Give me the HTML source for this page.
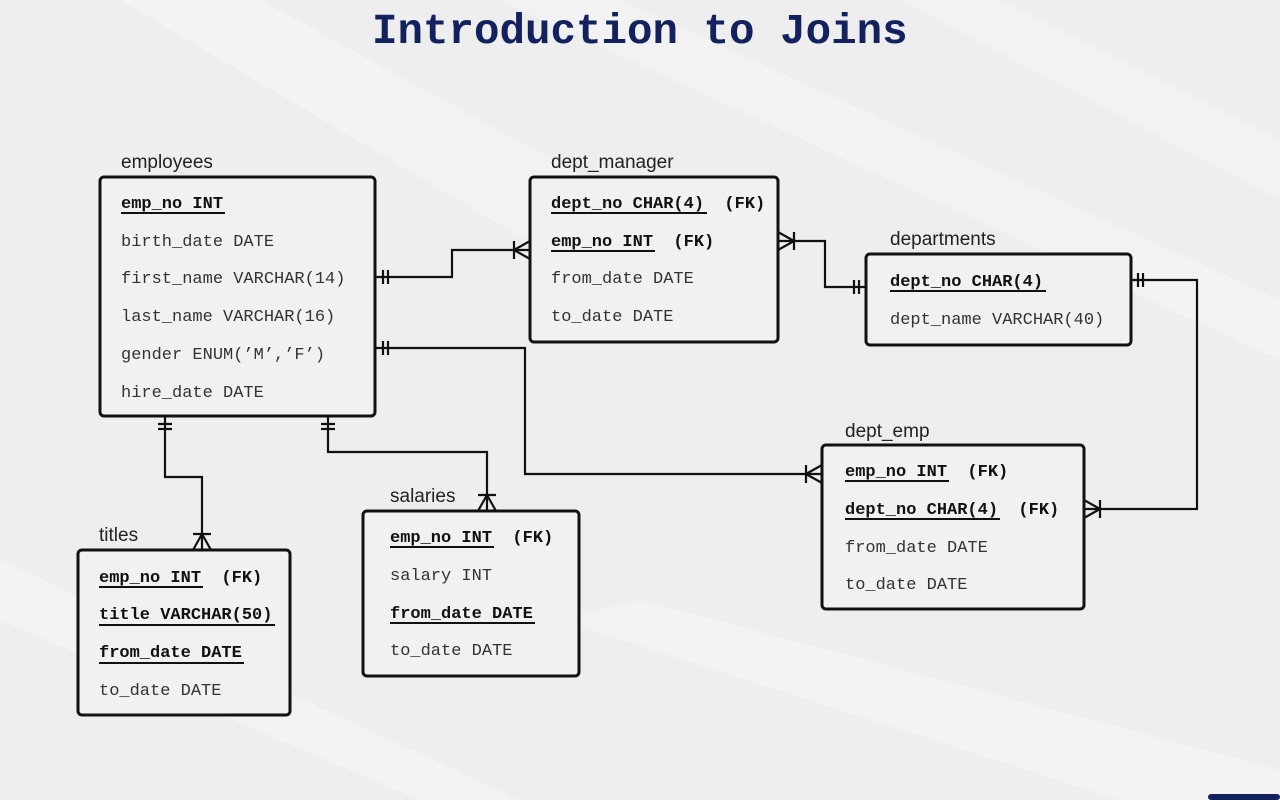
<!DOCTYPE html>
<html><head><meta charset="utf-8"><style>
html,body{margin:0;padding:0;width:1280px;height:800px;overflow:hidden;background:#efefef}
svg{display:block}
.t{font-family:"Liberation Mono",monospace;font-size:17px;fill:#333}
.b{font-weight:bold;fill:#111}
.l{font-family:"Liberation Sans",sans-serif;font-size:19px;fill:#222}
.box{fill:#f1f1f1;stroke:#111;stroke-width:3}
.c{fill:none;stroke:#111;stroke-width:2.2}
</style></head><body>
<svg width="1280" height="800" viewBox="0 0 1280 800" xmlns="http://www.w3.org/2000/svg">
<rect width="1280" height="800" fill="#eeeeee"/>
<g fill="#f8f8f8" opacity="0.45">
<polygon points="120,0 260,0 700,240 560,260"/>
<polygon points="500,0 620,0 1280,300 1280,360"/>
<polygon points="0,560 0,620 420,800 520,800"/>
<polygon points="560,620 640,600 1280,770 1280,800 1120,800"/>
<polygon points="900,0 1000,0 1280,140 1280,200"/>
</g>
<text x="372" y="43" font-family="Liberation Mono,monospace" font-weight="bold" font-size="42.5" fill="#13225e">Introduction to Joins</text>
<rect x="1208" y="794" width="72" height="6" rx="3" fill="#13225e"/>

<!-- connectors -->
<path class="c" d="M375,277 H452 V250 H530"/>
<path class="c" d="M383,270 V284 M388,270 V284"/>
<path class="c" d="M514,250 L530,241 M514,250 L530,259 M514,241 V259"/>

<path class="c" d="M375,348 H525 V474 H822"/>
<path class="c" d="M383,341 V355 M388,341 V355"/>
<path class="c" d="M806,474 L822,465 M806,474 L822,483 M806,465 V483"/>

<path class="c" d="M778,241 H825 V287 H866"/>
<path class="c" d="M794,241 L778,232 M794,241 L778,250 M794,232 V250"/>
<path class="c" d="M854,280 V294 M859,280 V294"/>

<path class="c" d="M1131,280 H1197 V509 H1084"/>
<path class="c" d="M1138,273 V287 M1143,273 V287"/>
<path class="c" d="M1100,509 L1084,500 M1100,509 L1084,518 M1100,500 V518"/>

<path class="c" d="M165,416 V477 H202 V550"/>
<path class="c" d="M158,424 H172 M158,429 H172"/>
<path class="c" d="M202,534 L193,550 M202,534 L211,550 M193,534 H211"/>

<path class="c" d="M328,416 V452 H487 V511"/>
<path class="c" d="M321,424 H335 M321,429 H335"/>
<path class="c" d="M487,495 L478,511 M487,495 L496,511 M478,495 H496"/>

<!-- employees -->
<text class="l" x="121" y="168">employees</text>
<rect class="box" x="100" y="177" width="275" height="239" rx="4"/>
<text class="t b" x="121" y="208">emp_no INT</text><line x1="121" y1="213" x2="225" y2="213" stroke="#111" stroke-width="2"/>
<text class="t" x="121" y="246">birth_date DATE</text>
<text class="t" x="121" y="283">first_name VARCHAR(14)</text>
<text class="t" x="121" y="321">last_name VARCHAR(16)</text>
<text class="t" x="121" y="359">gender ENUM(’M’,’F’)</text>
<text class="t" x="121" y="397">hire_date DATE</text>

<!-- dept_manager -->
<text class="l" x="551" y="168">dept_manager</text>
<rect class="box" x="530" y="177" width="248" height="165" rx="4"/>
<text class="t b" x="551" y="208" xml:space="preserve">dept_no CHAR(4)  (FK)</text><line x1="551" y1="213" x2="707" y2="213" stroke="#111" stroke-width="2"/>
<text class="t b" x="551" y="246" xml:space="preserve">emp_no INT  (FK)</text><line x1="551" y1="251" x2="655" y2="251" stroke="#111" stroke-width="2"/>
<text class="t" x="551" y="283">from_date DATE</text>
<text class="t" x="551" y="321">to_date DATE</text>

<!-- departments -->
<text class="l" x="890" y="245">departments</text>
<rect class="box" x="866" y="254" width="265" height="91" rx="4"/>
<text class="t b" x="890" y="286">dept_no CHAR(4)</text><line x1="890" y1="291" x2="1046" y2="291" stroke="#111" stroke-width="2"/>
<text class="t" x="890" y="324">dept_name VARCHAR(40)</text>

<!-- dept_emp -->
<text class="l" x="845" y="437">dept_emp</text>
<rect class="box" x="822" y="445" width="262" height="164" rx="4"/>
<text class="t b" x="845" y="476" xml:space="preserve">emp_no INT  (FK)</text><line x1="845" y1="481" x2="949" y2="481" stroke="#111" stroke-width="2"/>
<text class="t b" x="845" y="514" xml:space="preserve">dept_no CHAR(4)  (FK)</text><line x1="845" y1="519" x2="1000" y2="519" stroke="#111" stroke-width="2"/>
<text class="t" x="845" y="552">from_date DATE</text>
<text class="t" x="845" y="589">to_date DATE</text>

<!-- titles -->
<text class="l" x="99" y="541">titles</text>
<rect class="box" x="78" y="550" width="212" height="165" rx="4"/>
<text class="t b" x="99" y="582" xml:space="preserve">emp_no INT  (FK)</text><line x1="99" y1="587" x2="203" y2="587" stroke="#111" stroke-width="2"/>
<text class="t b" x="99" y="619">title VARCHAR(50)</text><line x1="99" y1="625" x2="275" y2="625" stroke="#111" stroke-width="2"/>
<text class="t b" x="99" y="657">from_date DATE</text><line x1="99" y1="663" x2="244" y2="663" stroke="#111" stroke-width="2"/>
<text class="t" x="99" y="695">to_date DATE</text>

<!-- salaries -->
<text class="l" x="390" y="502">salaries</text>
<rect class="box" x="363" y="511" width="216" height="165" rx="4"/>
<text class="t b" x="390" y="542" xml:space="preserve">emp_no INT  (FK)</text><line x1="390" y1="547" x2="494" y2="547" stroke="#111" stroke-width="2"/>
<text class="t" x="390" y="580">salary INT</text>
<text class="t b" x="390" y="618">from_date DATE</text><line x1="390" y1="623" x2="535" y2="623" stroke="#111" stroke-width="2"/>
<text class="t" x="390" y="655">to_date DATE</text>
</svg>
</body></html>
